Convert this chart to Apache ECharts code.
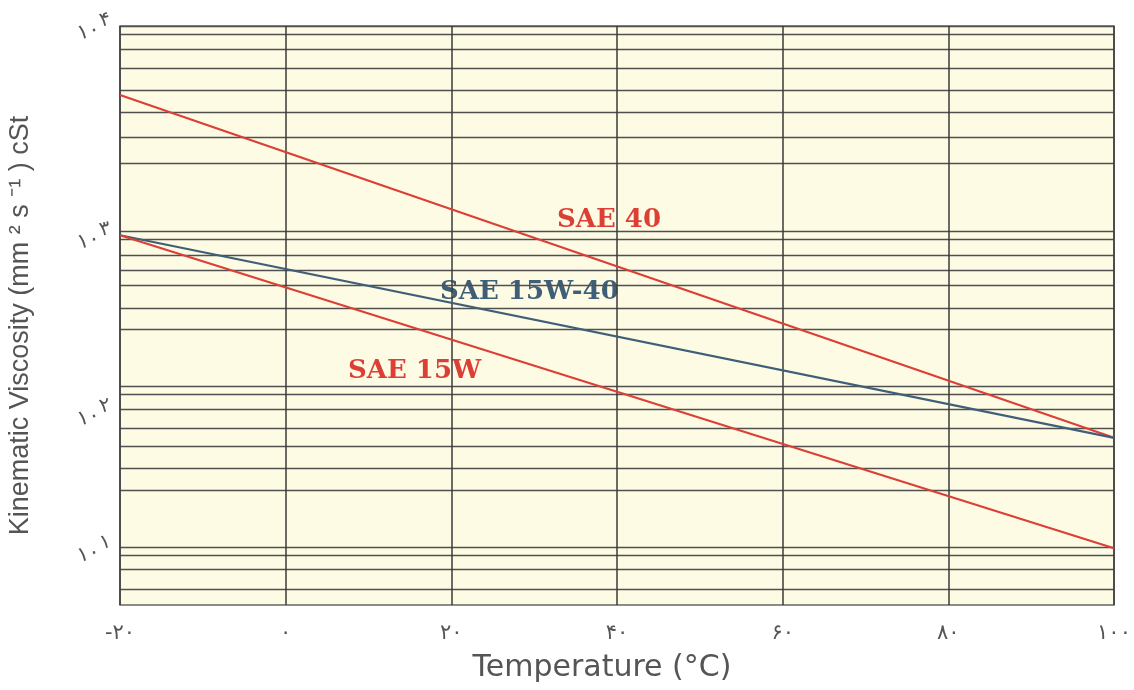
<!DOCTYPE html>
<html>
<head>
<meta charset="utf-8">
<script src="https://cdn.jsdelivr.net/npm/echarts@6/dist/echarts.min.js"></script>
<style>
  html, body { margin: 0; padding: 0; background: #ffffff; }
  #chart { width: 1134px; height: 690px; }
</style>
</head>
<body>
<div id="chart"></div>
<script>
// ---- data (temperature in °C, kinematic viscosity in cSt) ----
const temperatures = [-20, 100];
const sae40 = [4850, 68];
const sae15w40 = [1000, 68];
const sae15w = [1000, 10];

const xTickValues = [-20, 0, 20, 40, 60, 80, 100];
const yDecadeLabels = [10, 100, 1000, 10000];
const yGridViscosities = [10000, 9200, 7900, 6450, 5100, 4030, 3070, 2300,
  1050, 955, 790, 655, 545, 408, 311, 144, 129, 104, 79, 60, 42, 29.4,
  10.2, 8.6, 6.3, 3.9];

const seriesNames = ['SAE 40', 'SAE 15W-40', 'SAE 15W'];

// ---- chart's viscosity scale: position ∝ (log10 ν)^1.5 ----
const P = 1.5;
function toScale(v) { return Math.pow(Math.log10(v), P); }
function fromScale(u) { return Math.pow(10, Math.pow(u, 1 / P)); }

const fa = '۰۱۲۳۴۵۶۷۸۹';
function toPersian(n) {
  return String(n).replace(/[0-9]/g, d => fa[+d]);
}

const red = '#dc3f36';
const blue = '#3f5f78';

function pairs(ys) { return temperatures.map((t, i) => [t, toScale(ys[i])]); }

const chart = echarts.init(document.getElementById('chart'), null, { renderer: 'canvas' });
chart.setOption({
  backgroundColor: '#ffffff',
  animation: false,
  grid: {
    left: 120, right: 20, top: 26, bottom: 85,
    containLabel: false,
    outerBoundsMode: 'none',
    show: true,
    backgroundColor: '#fdfbe4',
    borderColor: '#666',
    borderWidth: 1.5
  },
  xAxis: {
    type: 'value',
    min: -20, max: 100, interval: 20,
    name: 'Temperature (°C)',
    nameLocation: 'middle',
    nameGap: 48,
    nameTextStyle: { fontFamily: 'DejaVu Sans', fontSize: 30, color: '#555', padding: [0, 30, 0, 0] },
    axisLine: { show: false },
    axisTick: { show: false },
    axisLabel: {
      margin: 18,
      fontFamily: 'DejaVu Sans', fontSize: 21, color: '#555',
      formatter: v => toPersian(v)
    },
    splitLine: { show: true, lineStyle: { color: '#3a3a3a', width: 1.5 } }
  },
  yAxis: {
    type: 'value',
    min: toScale(fromScale(0.24)),
    max: toScale(10000),
    name: 'Kinematic Viscosity (mm ² s ⁻¹ ) cSt',
    nameLocation: 'middle',
    nameGap: 86,
    nameRotate: 90,
    nameTextStyle: { fontFamily: 'Liberation Sans', fontSize: 27, color: '#555', padding: [0, 20, 0, 0] },
    axisLine: { show: false },
    axisTick: { show: false, customValues: yGridViscosities.map(toScale) },
    axisLabel: {
      customValues: yDecadeLabels.map(toScale),
      margin: 8,
      rotate: 14,
      color: '#555',
      formatter: u => {
        const e = Math.round(Math.log10(fromScale(u)));
        return '{a|' + toPersian(10) + '}{b|' + toPersian(e) + '}';
      },
      rich: {
        a: { fontFamily: 'DejaVu Sans', fontSize: 21, color: '#555' },
        b: { fontFamily: 'DejaVu Sans', fontSize: 20, color: '#555', padding: [0, 0, 14, 2] }
      }
    },
    splitLine: { show: true, lineStyle: { color: '#505050', width: 1.3 } }
  },
  series: [
    { name: seriesNames[0], type: 'line', data: pairs(sae40), symbol: 'none',
      lineStyle: { color: red, width: 2.2 } },
    { name: seriesNames[1], type: 'line', data: pairs(sae15w40), symbol: 'none',
      lineStyle: { color: blue, width: 2.2 } },
    { name: seriesNames[2], type: 'line', data: pairs(sae15w), symbol: 'none',
      lineStyle: { color: red, width: 2.2 } }
  ],
  graphic: [
    { type: 'text', left: 557, top: 207, style: { text: seriesNames[0], fill: red,
      font: 'bold 26px "DejaVu Serif"' } },
    { type: 'text', left: 440, top: 279, style: { text: seriesNames[1], fill: blue,
      font: 'bold 26px "DejaVu Serif"' } },
    { type: 'text', left: 348, top: 358, style: { text: seriesNames[2], fill: red,
      font: 'bold 26px "DejaVu Serif"' } }
  ]
});
</script>
</body>
</html>
